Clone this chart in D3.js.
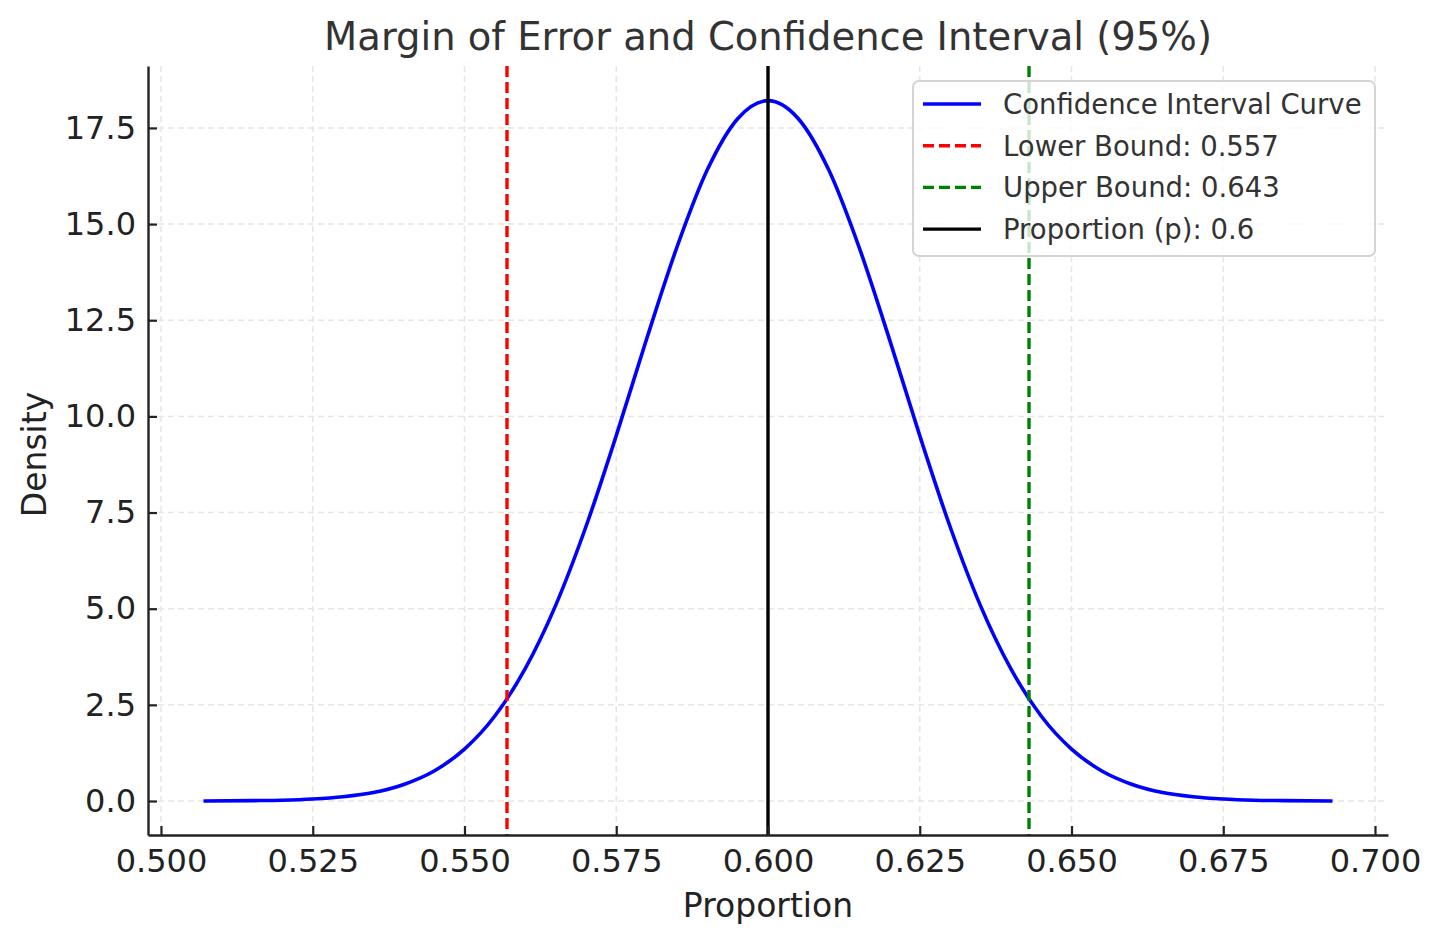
<!DOCTYPE html>
<html>
<head>
<meta charset="utf-8">
<script src="https://cdn.jsdelivr.net/npm/d3@7"></script>
<style>
  body { margin: 0; background: #fff; }
  svg { font-family: "DejaVu Sans", sans-serif; }
</style>
</head>
<body>
<div id="chart"></div>
<script>
"use strict";

// Curve points (proportion, density)
var proportions = [0.507, 0.515, 0.520, 0.525, 0.530, 0.535, 0.540, 0.545, 0.550, 0.555,
  0.560, 0.565, 0.570, 0.575, 0.580, 0.585, 0.590, 0.595, 0.600,
  0.605, 0.610, 0.615, 0.620, 0.625, 0.630, 0.635, 0.640, 0.645, 0.650,
  0.655, 0.660, 0.665, 0.670, 0.675, 0.680, 0.685, 0.693];
var densities = [0.00, 0.01, 0.02, 0.05, 0.11, 0.22, 0.43, 0.78, 1.35, 2.21,
  3.44, 5.08, 7.13, 9.50, 12.01, 14.40, 16.41, 17.74, 18.21,
  17.74, 16.41, 14.40, 12.01, 9.50, 7.13, 5.08, 3.44, 2.21, 1.35,
  0.78, 0.43, 0.22, 0.11, 0.05, 0.02, 0.01, 0.00];

var lowerBound = 0.557;
var upperBound = 0.643;
var proportion = 0.6;

var xTicks = [0.500, 0.525, 0.550, 0.575, 0.600, 0.625, 0.650, 0.675, 0.700];
var yTicks = [0.0, 2.5, 5.0, 7.5, 10.0, 12.5, 15.0, 17.5];

var legendLabels = ["Confidence Interval Curve", "Lower Bound: 0.557", "Upper Bound: 0.643", "Proportion (p): 0.6"];
var legendColors = ["#0000ff", "#ff0000", "#008000", "#000000"];
var legendDashed = [false, true, true, false];

var width = 1442, height = 943;
var margin = {top: 66, right: 54, bottom: 108, left: 148};

var svg = d3.select("#chart").append("svg")
  .attr("width", width)
  .attr("height", height);

var x = d3.scaleLinear()
  .domain([0.49786, 0.70214])
  .range([margin.left, width - margin.right]);
var y = d3.scaleLinear()
  .domain([-0.884, 19.11])
  .range([height - margin.bottom, margin.top]);

var plotTop = margin.top, plotBottom = height - margin.bottom;
var plotLeft = margin.left, plotRight = width - margin.right;

// Grid
svg.append("g").selectAll("line").data(xTicks).join("line")
  .attr("x1", d => x(d)).attr("x2", d => x(d))
  .attr("y1", plotTop).attr("y2", plotBottom)
  .attr("stroke", "#e6e6e6").attr("stroke-width", 1.5)
  .attr("stroke-dasharray", "6,4");
svg.append("g").selectAll("line").data(yTicks).join("line")
  .attr("x1", plotLeft).attr("x2", plotRight)
  .attr("y1", d => y(d)).attr("y2", d => y(d))
  .attr("stroke", "#e6e6e6").attr("stroke-width", 1.5)
  .attr("stroke-dasharray", "6,4");

// Curve
var pts = d3.zip(proportions, densities);
svg.append("path")
  .datum(pts)
  .attr("d", d3.line().x(d => x(d[0])).y(d => y(d[1])).curve(d3.curveMonotoneX))
  .attr("fill", "none")
  .attr("stroke", "#0000ff")
  .attr("stroke-width", 3.6);

// Vertical lines
function vline(v, color, dashed) {
  svg.append("line")
    .attr("x1", x(v)).attr("x2", x(v))
    .attr("y1", plotTop).attr("y2", plotBottom)
    .attr("stroke", color)
    .attr("stroke-width", 3.4)
    .attr("stroke-dasharray", dashed ? "11,5" : null);
}
vline(lowerBound, "#ff0000", true);
vline(upperBound, "#008000", true);
vline(proportion, "#000000", false);

// Axes (ticks point inward)
var xAxis = svg.append("g")
  .attr("transform", "translate(0," + plotBottom + ")")
  .call(d3.axisBottom(x).tickValues(xTicks).tickFormat(d3.format(".3f")).tickSize(-9).tickSizeOuter(0).tickPadding(14));
var yAxis = svg.append("g")
  .attr("transform", "translate(" + plotLeft + ",0)")
  .call(d3.axisLeft(y).tickValues(yTicks).tickFormat(d3.format(".1f")).tickSize(-9).tickSizeOuter(0).tickPadding(12));

[xAxis, yAxis].forEach(function(a) {
  a.select(".domain").attr("stroke", "#222").attr("stroke-width", 2.4);
  a.selectAll(".tick line").attr("stroke", "#222").attr("stroke-width", 2.2);
  a.selectAll(".tick text")
    .attr("fill", "#222")
    .attr("font-size", "32px")
    .attr("font-family", "DejaVu Sans, sans-serif");
});

// Labels
svg.append("text")
  .attr("x", (plotLeft + plotRight) / 2).attr("y", 50)
  .attr("text-anchor", "middle")
  .attr("font-size", "38.5px")
  .attr("fill", "#333")
  .text("Margin of Error and Confidence Interval (95%)");
svg.append("text")
  .attr("x", (plotLeft + plotRight) / 2).attr("y", 917)
  .attr("text-anchor", "middle")
  .attr("font-size", "33px")
  .attr("fill", "#222")
  .text("Proportion");
svg.append("text")
  .attr("transform", "translate(46," + ((plotTop + plotBottom) / 2 + 4) + ") rotate(-90)")
  .attr("text-anchor", "middle")
  .attr("font-size", "33px")
  .attr("fill", "#222")
  .text("Density");

// Legend
var lg = svg.append("g").attr("transform", "translate(913,81)");
lg.append("rect")
  .attr("width", 462).attr("height", 175)
  .attr("rx", 6).attr("ry", 6)
  .attr("fill", "rgba(255,255,255,0.8)")
  .attr("stroke", "#d4d4d4")
  .attr("stroke-width", 2);
legendLabels.forEach(function(label, i) {
  var ly = 23 + i * 41.7;
  lg.append("line")
    .attr("x1", 10).attr("x2", 68)
    .attr("y1", ly).attr("y2", ly)
    .attr("stroke", legendColors[i])
    .attr("stroke-width", 3.4)
    .attr("stroke-dasharray", legendDashed[i] ? "11,5" : null);
  lg.append("text")
    .attr("x", 90).attr("y", ly + 10)
    .attr("font-size", "27.5px")
    .attr("fill", "#333")
    .text(label);
});
</script>
</body>
</html>
